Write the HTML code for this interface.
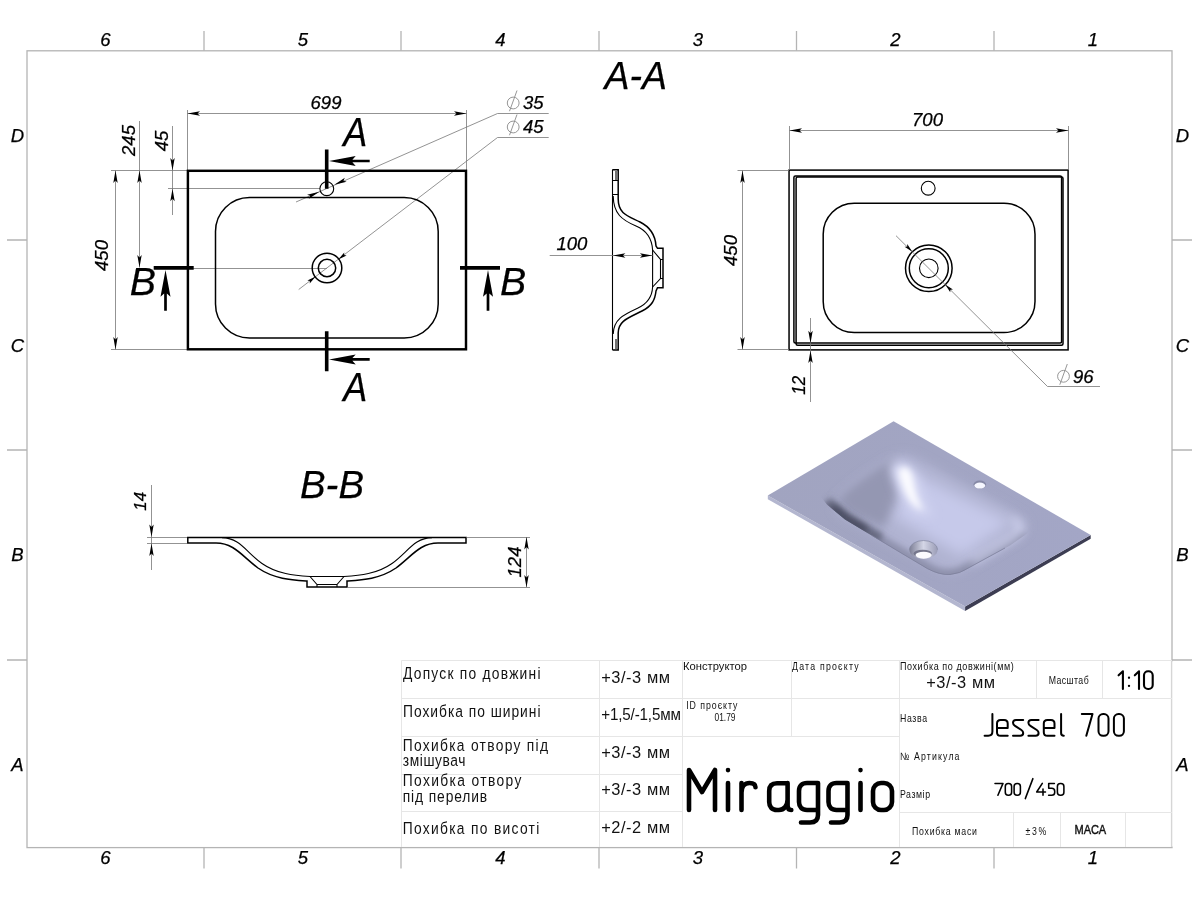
<!DOCTYPE html>
<html>
<head>
<meta charset="utf-8">
<title>Jessel 700</title>
<style>
html,body{margin:0;padding:0;background:#fff;}
body{width:1199px;height:900px;overflow:hidden;font-family:"Liberation Sans",sans-serif;}
svg{display:block;position:absolute;left:0;top:0;will-change:transform;}
text{font-family:"Liberation Sans",sans-serif;}
.it{font-style:italic;fill:#000;stroke:#000;stroke-width:0.25;}
.dim{stroke:#777;stroke-width:0.8;fill:none;}
.ah{fill:#000;stroke:none;}
.thick{stroke:#000;stroke-width:2.45;fill:none;}
.med{stroke:#000;stroke-width:1.5;fill:none;}
.thin{stroke:#000;stroke-width:1.1;fill:none;}
.frame{stroke:#b4b4b4;stroke-width:1.3;fill:none;}
.tbl{stroke:#e6e6e6;stroke-width:1;fill:none;}
.g{font-family:"Liberation Sans",sans-serif;fill:#111;}
.sk{stroke:#000;fill:none;stroke-linecap:round;stroke-linejoin:round;}
</style>
</head>
<body>
<svg width="1199" height="900" viewBox="0 0 1199 900">
<defs>
<path id="ar" d="M0 0 L-12.5 -2.2 L-10 0 L-12.5 2.2 Z"/>
<path id="sar" d="M0 0 L-9 -1.9 L-7.2 0 L-9 1.9 Z"/>
<path id="big" d="M0 0 L26.7 -5 L23.4 -1.35 L40.7 -1.35 L40.7 1.35 L23.4 1.35 L26.7 5 Z"/>

<filter id="b3" x="-30%" y="-30%" width="160%" height="160%"><feGaussianBlur stdDeviation="3"/></filter>
<filter id="b5" x="-30%" y="-30%" width="160%" height="160%"><feGaussianBlur stdDeviation="5"/></filter>
<filter id="b7" x="-40%" y="-40%" width="180%" height="180%"><feGaussianBlur stdDeviation="7"/></filter>
<filter id="b1" x="-10%" y="-10%" width="120%" height="120%"><feGaussianBlur stdDeviation="0.6"/></filter>
<clipPath id="slab"><path d="M893.6 421.3L1090.7 535L965.1 606.6L767.8 495.6Z"/></clipPath>
<linearGradient id="topg" x1="767" y1="495" x2="1090" y2="535" gradientUnits="userSpaceOnUse">
<stop offset="0" stop-color="#a1a4c0"/><stop offset="1" stop-color="#a3a6c6"/></linearGradient>
<linearGradient id="drg" x1="0" y1="0" x2="1" y2="0"><stop offset="0" stop-color="#7d7f96"/><stop offset="0.5" stop-color="#d4d6e6"/><stop offset="1" stop-color="#9a9cb6"/></linearGradient>
<clipPath id="rimclip"><path d="M815 490 L827 504.6 L845 519.6 L875 537.6 L905 555.6 L927.6 569 Q940 575.5 950 574.8 Q960 574 968 568.5 L1010 545.5 L1025 535 Q1035 528 1031 520 L1040 430 L815 430 Z"/></clipPath>
</defs>
<rect width="1199" height="900" fill="#fff"/>

<!-- FRAME -->
<g id="frame">
<rect class="frame" x="27" y="50.8" width="1145" height="796.8"/>
<path class="frame" d="M204 31V50.8M401 31V50.8M599 31V50.8M796.5 31V50.8M994 31V50.8M204 847.6V868.5M401 847.6V868.5M599 847.6V868.5M796.5 847.6V868.5M994 847.6V868.5M7 240H27M7 450H27M7 660H27M1172 240H1192M1172 450H1192M1172 660H1192"/>
<g class="it" font-size="18.5" text-anchor="middle">
<text x="105.5" y="46.3">6</text><text x="303" y="46.3">5</text><text x="500.5" y="46.3">4</text><text x="698" y="46.3">3</text><text x="895.5" y="46.3">2</text><text x="1093" y="46.3">1</text>
<text x="105.5" y="864.3">6</text><text x="303" y="864.3">5</text><text x="500.5" y="864.3">4</text><text x="698" y="864.3">3</text><text x="895.5" y="864.3">2</text><text x="1093" y="864.3">1</text>
<text x="17.5" y="141.7">D</text><text x="17.5" y="351.5">C</text><text x="17.5" y="560.7">B</text><text x="17.5" y="770.5">A</text>
<text x="1182.5" y="141.7">D</text><text x="1182.5" y="351.5">C</text><text x="1182.5" y="560.7">B</text><text x="1182.5" y="770.5">A</text>
</g>
</g>

<!-- LEFT VIEW -->
<g id="leftview">
<path class="dim" d="M187.5 110V170M466.5 110V170M187.5 113.5H466.5M111 170.5H187.5M111 349.5H187.5M115.5 170.5V349.5M139.5 121V267.5M172.5 126V215M168 188.5H320M193 268.5H327M497.5 113.5H548.7M497.5 113.5L296 202M497.5 137.5H548.7M497.5 137.5L298.7 289.5"/>
<rect class="thick" x="187.9" y="170.8" width="278.1" height="178.5"/>
<rect class="med" x="215.5" y="197.5" width="222.7" height="140.5" rx="34" ry="34" stroke-width="1.7"/>
<circle class="thin" cx="326.8" cy="188.7" r="6.9" stroke-width="1.7"/>
<circle class="med" cx="327" cy="268" r="14.8" stroke-width="2"/>
<circle class="med" cx="327" cy="268" r="8.7" stroke-width="1.9"/>
<!-- section markers -->
<path d="M326.7 149.5V188.7M326.7 331.2V371.2M153.7 267.9H193.7M460 267.9H500" stroke="#000" stroke-width="3.6" fill="none"/>
<use href="#big" x="329" y="161"/>
<use href="#big" x="329" y="359.4"/>
<use href="#big" transform="translate(165.5 270) rotate(90)"/>
<use href="#big" transform="translate(488 270) rotate(90)"/>
<g class="it" font-size="40" stroke-width="0.6">
<text x="343.2" y="145.7" textLength="24" lengthAdjust="spacingAndGlyphs">A</text><text x="343.2" y="401.3" textLength="24" lengthAdjust="spacingAndGlyphs">A</text>
<text x="129.8" y="295.3" font-size="39.3">B</text><text x="500" y="295.3" font-size="39.3">B</text>
</g>
<!-- dims -->
<use href="#ar" class="ah" transform="translate(187.5 113.5) rotate(180)"/>
<use href="#ar" class="ah" transform="translate(466.5 113.5)"/>
<use href="#ar" class="ah" transform="translate(115.5 170.5) rotate(-90)"/>
<use href="#ar" class="ah" transform="translate(115.5 349.5) rotate(90)"/>
<use href="#ar" class="ah" transform="translate(139.5 170.5) rotate(-90)"/>
<use href="#ar" class="ah" transform="translate(139.5 267.5) rotate(90)"/>
<use href="#ar" class="ah" transform="translate(172.5 170.5) rotate(90)"/>
<use href="#ar" class="ah" transform="translate(172.5 188.7) rotate(-90)"/>
<use href="#ar" class="ah" transform="translate(334.3 184.8) rotate(156.2)"/>
<use href="#ar" class="ah" transform="translate(319.4 191.8) rotate(-23.8)"/>
<use href="#sar" class="ah" transform="translate(338.3 259.4) rotate(142.6)"/>
<use href="#sar" class="ah" transform="translate(315.7 276.6) rotate(-37.4)"/>
<g class="it" font-size="18.5">
<text x="326" y="109" text-anchor="middle">699</text>
<text x="523" y="109">35</text><text x="523" y="133">45</text>
<text transform="translate(107.5 255.5) rotate(-90)" text-anchor="middle">450</text>
<text transform="translate(135 140.5) rotate(-90)" text-anchor="middle">245</text>
<text transform="translate(168 141) rotate(-90)" text-anchor="middle">45</text>
</g>
<g stroke="#8a8a8a" stroke-width="0.9" fill="none"><circle cx="513.2" cy="103" r="5.9"/><path d="M509.5 111.2L517 90.5"/><circle cx="513.2" cy="127" r="5.9"/><path d="M509.5 135.2L517 114.5"/></g>
</g>

<!-- A-A SECTION -->
<g id="aa">
<text class="it" stroke-width="0.6" font-size="39.5" x="604.6" y="89.3" textLength="62.5" lengthAdjust="spacingAndGlyphs">A-A</text>
<path class="thin" d="M612.5 169.5V350"/>
<!-- outer (right) contour -->
<path class="med" d="M612.5 169.7H618.2V199 C618.2 214 628 216 640 222 C652 228 655.5 238 656 246 L657.5 248.3 H663 V287.8 H657.5 L656 291 C655 300 652 306 642 311 C628 318 618.2 321 618.2 333 V350 H612.5"/>
<!-- inner (left) contour -->
<path class="thin" stroke-width="1.35" d="M613.2 196 C613.5 214 622 220 636 226 C648 231 652 240 652.6 250 V287 C652.2 296 648.5 303 638 308 C624 314.5 613.5 319 613.2 334"/>
<path class="thin" d="M612.5 180.5H618M612.5 194.5H618M616 171V180M652.6 250L660.5 259.5V278.5L652.6 287M660.5 259.5H663M660.5 278.5H663M616 339V349"/>
<path class="dim" d="M549.7 255.5H652.6"/>
<use href="#ar" class="ah" transform="translate(612.9 255.5) rotate(180)"/>
<use href="#ar" class="ah" transform="translate(652.4 255.5)"/>
<text class="it" font-size="18.5" x="556.5" y="250">100</text>
</g>

<!-- RIGHT VIEW -->
<g id="rightview">
<rect class="med" x="789.05" y="170.1" width="279.05" height="179.8" stroke-width="1.75"/>
<rect class="med" x="793.9" y="175.9" width="267.7" height="167" rx="1.5" stroke-width="1.45"/>
<rect class="med" x="796.1" y="176.9" width="266.9" height="168.3" rx="1.5" stroke-width="1.45"/>
<rect class="med" x="823.2" y="203.2" width="211.8" height="129.3" rx="31" ry="31" stroke-width="1.8"/>
<circle class="thin" cx="928.2" cy="188.2" r="6.9" stroke-width="1.8"/>
<circle class="med" cx="928.8" cy="268.3" r="23.3" stroke-width="1.8"/>
<circle class="med" cx="928.8" cy="268.3" r="19.5" stroke-width="1.8"/>
<circle class="thin" cx="928.8" cy="268.3" r="9.3" stroke-width="1.8"/>
<path class="dim" d="M789.5 126V170M1068.5 126V170M789.5 130.5H1068.5M737.5 170.5H789M737.5 349.5H789M742.5 170.5V349.5M810.5 318V402M1047.5 386.5H1100M1047.5 386.5L896 235.7"/>
<use href="#ar" class="ah" transform="translate(789.5 130.5) rotate(180)"/>
<use href="#ar" class="ah" transform="translate(1068.5 130.5)"/>
<use href="#ar" class="ah" transform="translate(742.5 170.5) rotate(-90)"/>
<use href="#ar" class="ah" transform="translate(742.5 349.5) rotate(90)"/>
<use href="#ar" class="ah" transform="translate(810.5 343.2) rotate(90)"/>
<use href="#ar" class="ah" transform="translate(810.5 350.6) rotate(-90)"/>
<use href="#sar" class="ah" transform="translate(945.2 284.6) rotate(-135.2)"/>
<use href="#sar" class="ah" transform="translate(912.3 251.8) rotate(44.8)"/>
<g class="it" font-size="18.5">
<text x="927.5" y="125.5" text-anchor="middle">700</text>
<text x="1073" y="382.5">96</text>
<text transform="translate(736.5 250.5) rotate(-90)" text-anchor="middle">450</text>
<text transform="translate(804.5 385.3) rotate(-90)" text-anchor="middle" textLength="18.8" lengthAdjust="spacingAndGlyphs">12</text>
</g>
<g stroke="#8a8a8a" stroke-width="0.9" fill="none"><circle cx="1063.5" cy="376.3" r="5.9"/><path d="M1059.8 384.7L1067.3 364"/></g>
</g>

<!-- B-B SECTION -->
<g id="bb">
<text class="it" stroke-width="0.6" font-size="39.5" x="300" y="498" textLength="64" lengthAdjust="spacingAndGlyphs">B-B</text>
<path class="med" d="M187.8 537.6H466V543H438 C420 543 412 556 396 568 C380 579 362 580 347 581 V587 H307 V581 C292 580 274 579 258 568 C242 556 234 543 216 543 H187.8 Z"/>
<path class="thin" d="M222 537.6 C240 538 246 552 262 563.5 C277 574 294 575.5 310 576.5 H344 C360 575.5 377 574 392 563.5 C408 552 414 538 432 537.6"/>
<path class="thin" d="M310 576.5L317 584.5H337L344 576.5M317 584.5V587M337 584.5V587"/>
<path class="dim" d="M147 537.5H187M147 543.5H187M151.5 485V570M466.6 537.5H530M347 587.5H530M526.5 537V587"/>
<use href="#ar" class="ah" transform="translate(151.5 537) rotate(90)"/>
<use href="#ar" class="ah" transform="translate(151.5 543.6) rotate(-90)"/>
<use href="#ar" class="ah" transform="translate(526.5 537) rotate(-90)"/>
<use href="#ar" class="ah" transform="translate(526.5 587.5) rotate(90)"/>
<g class="it" font-size="18.5">
<text transform="translate(146.3 501.3) rotate(-90)" text-anchor="middle" font-size="16.8">14</text>
<text transform="translate(520.5 562) rotate(-90)" text-anchor="middle">124</text>
</g>
</g>

<!-- 3D RENDER -->
<g id="render3d" filter="url(#b1)">
<path d="M767.8 495.6L965.1 606.6V611L767.8 499.2Z" fill="#b3b6cf"/>
<path d="M965.1 606.6L1090.7 535V538.8L965.1 611Z" fill="#3c3e52"/>
<path d="M893.6 421.3L1090.7 535L965.1 606.6L767.8 495.6Z" fill="url(#topg)"/>
<g clip-path="url(#slab)">
<!-- basin body -->
<path d="M838 497 C846 486 880 462 894 456 C904 452 912 455 925 462 L1018 514 C1030 521 1030 530 1020 537 L968 568 C956 575 946 575 934 568 L846 519 C832 511 832 505 838 497Z" fill="#b0b3d1" filter="url(#b5)"/>
<path d="M915 474 L1012 522 L962 556 L892 516Z" fill="#c6c9ea" filter="url(#b7)"/>
<!-- back-left wall: mid grey -->
<path d="M836 500 C852 484 878 466 894 459 L900 478 C898 492 892 508 884 528 L850 514Z" fill="#9497b2" filter="url(#b5)"/>
<!-- rim band + dark shadow in left corner (clipped by crisp front rim) -->
<g clip-path="url(#rimclip)">
<path d="M827 504.6 L845 519.6 L875 537.6 L905 555.6 L927.6 569 Q940 575.5 950 574.8 Q960 574 968 568.5 L1010 545.5 L1025 535" stroke="#8d90ab" stroke-width="11" fill="none" filter="url(#b3)"/>
<path d="M826 503 L845 519.6 L880 540" stroke="#666980" stroke-width="13" fill="none" filter="url(#b3)"/>
<path d="M832 508 L846 519 L866 531" stroke="#484b60" stroke-width="8" fill="none" filter="url(#b3)"/>
</g>
<!-- highlight streak -->
<path d="M890 466 C900 456 918 466 921 484 C923 498 928 508 934 516 L914 514 C902 500 892 484 890 466Z" fill="#d3d6f2" filter="url(#b5)"/>
<path d="M899 470 C904 464 911 468 913 479 C915 492 918 501 923 510 C915 509 908 500 904 490 C901 482 898 475 899 470Z" fill="#fbfbff" filter="url(#b3)"/>
<!-- front-right lip -->
<path d="M1012 519 C1024 526 1022 532 1012 538 L972 562" stroke="#d0d3ef" stroke-width="6" fill="none" filter="url(#b5)"/>
</g>
<!-- drain -->
<ellipse cx="923.5" cy="549.7" rx="14.1" ry="9.2" fill="url(#drg)"/>
<path d="M909.4 549.7 A14.1 9.2 0 0 1 937.6 549.7" fill="none" stroke="#8386a0" stroke-width="0.7"/>
<ellipse cx="922.8" cy="553.6" rx="9.2" ry="3.9" fill="#74768c"/>
<ellipse cx="923.6" cy="555.1" rx="8.1" ry="3.3" fill="#fbfbff"/>
<path d="M872 535.5 L905 555.3 L927.6 568.7 Q940 575.2 950 574.5 Q960 573.7 968 568.2 L1005 548" fill="none" stroke="#7b7e99" stroke-width="0.9" opacity="0.8"/>
<!-- tap hole -->
<ellipse cx="979.8" cy="484.6" rx="6.3" ry="4.2" fill="#8689a6"/>
<ellipse cx="979.8" cy="485.6" rx="5.4" ry="3" fill="#f6f7ff"/>
</g>

<!-- TITLE BLOCK -->
<g id="title">
<path d="M1172 661.3V846.6" stroke="#fff" stroke-width="3" fill="none"/>
<path d="M1171.6 660.5V847" stroke="#d6d6d6" stroke-width="1.4" fill="none"/>
<path class="tbl" d="M401.5 660.5H1172M401.5 660.5V847M599.5 660.5V847M682.5 660.5V847M791.5 660.5V736M899.5 660.5V847M1036.5 660.5V698.7M1102.5 660.5V698.7M401.5 698.5H1172M401.5 736.5H899M401.5 774.5H682.5M401.5 811.5H682.5M899 812.5H1172M1013.5 812V847M1060.5 812V847M1125.5 812V847"/>
<g class="g">
<text transform="translate(403 679.4) scale(1 1.21)" font-size="13.81" textLength="137.5" lengthAdjust="spacing">Допуск по довжині</text>
<text transform="translate(403 717.2) scale(1 1.21)" font-size="13.81" textLength="137.5" lengthAdjust="spacing">Похибка по ширині</text>
<text transform="translate(402.7 750.8) scale(1 1.21)" font-size="13.81" textLength="145.3" lengthAdjust="spacing">Похибка отвору під</text>
<text transform="translate(402.7 766.3) scale(1 1.21)" font-size="13.81" textLength="62.8" lengthAdjust="spacing">змішувач</text>
<text transform="translate(402.7 786.3) scale(1 1.21)" font-size="13.81" textLength="118.6" lengthAdjust="spacing">Похибка отвору</text>
<text transform="translate(402.7 801.7) scale(1 1.21)" font-size="13.81" textLength="84.5" lengthAdjust="spacing">під перелив</text>
<text transform="translate(402.7 834.2) scale(1 1.21)" font-size="13.81" textLength="136.6" lengthAdjust="spacing">Похибка по висоті</text>
<text transform="translate(601.2 682.5) scale(1 1.0)" font-size="16.42" textLength="68.8" lengthAdjust="spacing">+3/-3 мм</text>
<text transform="translate(601.2 719.5) scale(1 1.08)" font-size="15.21" textLength="79.8" lengthAdjust="spacing">+1,5/-1,5мм</text>
<text transform="translate(601.2 757.5) scale(1 1.0)" font-size="16.42" textLength="68.8" lengthAdjust="spacing">+3/-3 мм</text>
<text transform="translate(601.2 795) scale(1 1.0)" font-size="16.42" textLength="68.8" lengthAdjust="spacing">+3/-3 мм</text>
<text transform="translate(601.2 832.5) scale(1 1.0)" font-size="16.42" textLength="68.8" lengthAdjust="spacing">+2/-2 мм</text>
<text transform="translate(683 669.5) scale(1 1.0)" font-size="11.05" textLength="64" lengthAdjust="spacingAndGlyphs">Конструктор</text>
<text transform="translate(792 669.5) scale(1 1.21)" font-size="8.77" textLength="66.7" lengthAdjust="spacing">Дата проєкту</text>
<text transform="translate(686.2 708.7) scale(1 1.21)" font-size="8.77" textLength="51.3" lengthAdjust="spacing">ID проєкту</text>
<text transform="translate(714.5 720.5) scale(1 1.21)" font-size="8.77" textLength="21" lengthAdjust="spacingAndGlyphs">01.79</text>
<text transform="translate(900 670) scale(1 1.21)" font-size="9.01" textLength="113.7" lengthAdjust="spacing">Похибка по довжині(мм)</text>
<text transform="translate(926.2 688) scale(1 1.0)" font-size="16.42" textLength="68.8" lengthAdjust="spacing">+3/-3 мм</text>
<text transform="translate(1048.7 683.7) scale(1 1.21)" font-size="8.77" textLength="40" lengthAdjust="spacing">Масштаб</text>
<text transform="translate(900 722) scale(1 1.21)" font-size="8.77" textLength="27" lengthAdjust="spacing">Назва</text>
<text transform="translate(900 759.7) scale(1 1.21)" font-size="8.77" textLength="59.5" lengthAdjust="spacing">№ Артикула</text>
<text transform="translate(900 797.5) scale(1 1.21)" font-size="8.77" textLength="30" lengthAdjust="spacing">Размір</text>
<text transform="translate(912 834.5) scale(1 1.21)" font-size="8.77" textLength="65" lengthAdjust="spacing">Похибка маси</text>
<text transform="translate(1025.5 834.5) scale(1 1.21)" font-size="8.77" textLength="20.7" lengthAdjust="spacing">±3%</text>
<text transform="translate(1074.5 833.7) scale(1 1.21)" font-size="11.05" textLength="31.7" lengthAdjust="spacing" stroke="#111" stroke-width="0.35">МАСА</text>
</g>
<!-- stroked GOST-like labels -->
<g class="sk" stroke-width="2">
<path d="M992.4 714V731.6Q992.4 735.8 988.2 735.8H984.6"/>
<path d="M997 728H1007.7V723.6Q1007.7 720 1004.1 720H1000.6Q997 720 997 723.6V732.1999999999999Q997 735.8 1000.6 735.8H1007.7"/>
<path d="M1023.2 720H1016Q1013 720 1013 722.8Q1013 724.6 1015 725.8L1021.4000000000001 730.0Q1023.2 731.1999999999999 1023.2 733.0Q1023.2 735.8 1020.2 735.8H1013"/>
<path d="M1038.6 720H1031.4Q1028.4 720 1028.4 722.8Q1028.4 724.6 1030.4 725.8L1036.8 730.0Q1038.6 731.1999999999999 1038.6 733.0Q1038.6 735.8 1035.6 735.8H1028.4"/>
<path d="M1043.8 728H1054.5V723.6Q1054.5 720 1050.9 720H1047.3999999999999Q1043.8 720 1043.8 723.6V732.1999999999999Q1043.8 735.8 1047.3999999999999 735.8H1054.5"/>
<path d="M1061.1 714V733Q1061.1 735.8 1063.8 735.8"/>
<path d="M1081.8 714H1092.5L1086.3 735.8"/>
<rect x="1098.5" y="714" width="10" height="21.8" rx="4.6"/>
<rect x="1113.9" y="714" width="10" height="21.8" rx="4.6"/>
</g>
<g class="sk" stroke-width="2.1">
<path d="M1118.6 675.3L1122.9 671.3V689"/>
<path d="M1129 677.7V677.8M1129 685.8V685.9" stroke-width="2.3"/>
<path d="M1134.8 675.3L1139 671.3V689"/>
<rect x="1144" y="671.3" width="8.7" height="17.7" rx="4"/>
</g>
<g class="sk" stroke-width="1.55">
<path d="M995 783.4H1003L997.9 795.2"/>
<rect x="1005.3" y="783.4" width="6.3" height="11.8" rx="3"/>
<rect x="1014.1" y="783.4" width="6.3" height="11.8" rx="3"/>
<path d="M1032.9 778.6L1025.3 798.6"/>
<path d="M1042.3 783.4L1036.7 792H1045.5M1043 789V795.2"/>
<path d="M1054.4 783.4H1048.7V788.2H1051.6Q1054.7 788.2 1054.7 791.2V792.4Q1054.7 795.2 1051.6 795.2H1048.6"/>
<rect x="1057.4" y="783.4" width="6.5" height="11.8" rx="3"/>
</g>
<!-- Miraggio logo in stroked letters -->
<g class="sk" stroke-width="4.6">
<path d="M689 810V770L702 792L715 770V810"/>
<path d="M728 783V810M728 770V770.1"/>
<path d="M741.5 783V810M741.5 792.5C741.5 786.5 745 783 749.5 783C753.5 783 755.5 784.5 755.5 787.3"/>
<path d="M787.6 783V805.5C787.6 808.5 789 810 791.3 810M787.6 783.2H777C772 783.2 769.2 786 769.2 791V802C769.2 807 772 810 777 810H779C784 810 787.6 805.5 787.6 799.5"/>
<path d="M818 783V815C818 820 815 822.5 810 822.5H801M818 810H807C802 810 799 807 799 802V791C799 786 802 783 807 783H818"/>
<path d="M847.5 783V815C847.5 820 844.5 822.5 839.5 822.5H831M847.5 810H836.5C831.5 810 828.5 807 828.5 802V791C828.5 786 831.5 783 836.5 783H847.5"/>
<path d="M860.5 783V810M860.5 770V770.1"/>
<rect x="873" y="783" width="19" height="27" rx="8" ry="8"/>
</g>
</g>

</svg>
</body>
</html>
